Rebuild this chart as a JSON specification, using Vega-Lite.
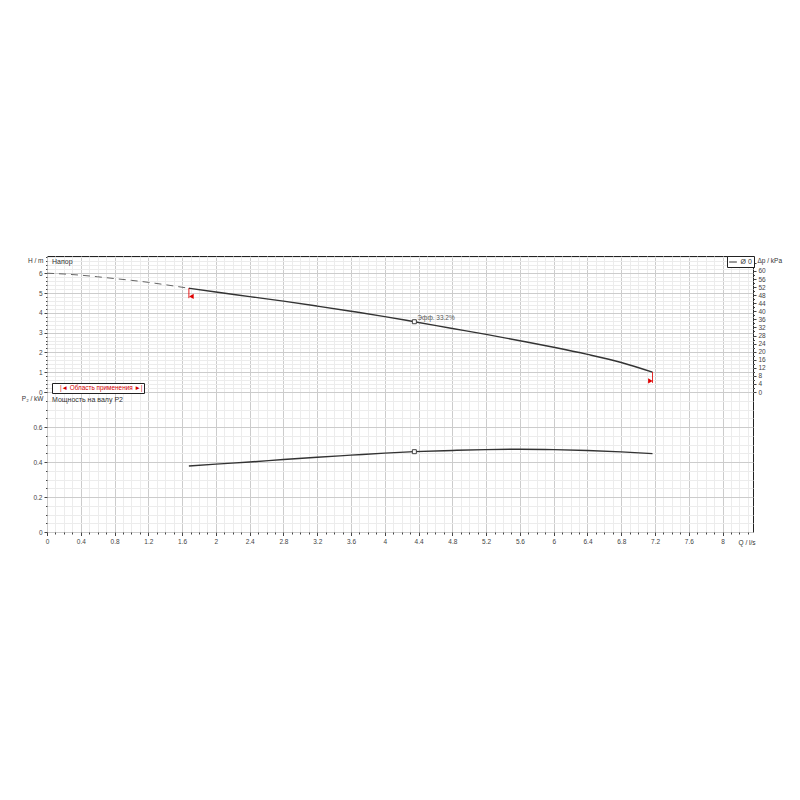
{
  "$schema": "https://vega.github.io/schema/vega-lite/v6.json",
  "autosize": {"type": "none"},
  "padding": {"left": 47, "top": 256, "right": 753, "bottom": 544},
  "background": "white",
  "config": {
    "font": "Liberation Sans",
    "view": {"stroke": "#222", "strokeWidth": 1},
    "axis": {
      "labelFont": "Liberation Sans", "labelFontSize": 6.5, "labelColor": "#444",
      "titleFont": "Liberation Sans", "titleFontSize": 6.5, "titleFontWeight": "normal", "titleColor": "#333",
      "tickColor": "#444", "domain": false, "labelOverlap": false, "labelFlush": false, "tickCount": 300
    }
  },
  "datasets": {
    "headDashed": [{"Q":0,"H":6.0},{"Q":0.2,"H":5.96},{"Q":0.4,"H":5.9},{"Q":0.6,"H":5.82},{"Q":0.8,"H":5.73},{"Q":1.0,"H":5.64},{"Q":1.2,"H":5.54},{"Q":1.4,"H":5.42},{"Q":1.68,"H":5.24}],
    "headSolid": [{"Q":1.68,"H":5.24},{"Q":2.0,"H":5.05},{"Q":2.4,"H":4.82},{"Q":2.8,"H":4.59},{"Q":3.2,"H":4.34},{"Q":3.6,"H":4.08},{"Q":4.0,"H":3.81},{"Q":4.35,"H":3.55},{"Q":4.8,"H":3.21},{"Q":5.2,"H":2.91},{"Q":5.6,"H":2.59},{"Q":6.0,"H":2.26},{"Q":6.4,"H":1.9},{"Q":6.8,"H":1.49},{"Q":7.17,"H":1.0}],
    "power": [{"Q":1.68,"P":0.377},{"Q":2.0,"P":0.388},{"Q":2.4,"P":0.4},{"Q":2.8,"P":0.414},{"Q":3.2,"P":0.427},{"Q":3.6,"P":0.439},{"Q":4.0,"P":0.451},{"Q":4.35,"P":0.459},{"Q":4.8,"P":0.466},{"Q":5.2,"P":0.471},{"Q":5.6,"P":0.473},{"Q":6.0,"P":0.471},{"Q":6.4,"P":0.466},{"Q":6.8,"P":0.458},{"Q":7.17,"P":0.448}],
    "op": [{"Q":4.35,"H":3.55,"P":0.459,"label":"Эфф. 33.2%"}],
    "limits": [{"Q":1.68,"H1":5.24,"H2":4.74,"Qt":1.71,"Ht":4.83,"side":"left"},{"Q":7.17,"H1":1.0,"H2":0.46,"Qt":7.145,"Ht":0.56,"side":"right"}],
    "dpAxis": [{"dp":0},{"dp":64}]
  },
  "spacing": 0,
  "bounds": "flush",
  "vconcat": [
    {
      "width": 706, "height": 136,
      "title": {"text": "Напор", "anchor": "start", "frame": "group", "offset": -11, "dx": 5, "fontSize": 7, "fontWeight": "normal", "font": "Liberation Sans", "color": "#333"},
      "layer": [
        {
          "data": {"name": "dpAxis"},
          "mark": {"type": "point", "opacity": 0},
          "encoding": {
            "y": {"field": "dp", "type": "quantitative", "scale": {"domain": [0, 67.4], "nice": false, "zero": false},
              "axis": {"orient": "right", "grid": false, "tickCount": 300,
                "values": [0,2,4,6,8,10,12,14,16,18,20,22,24,26,28,30,32,34,36,38,40,42,44,46,48,50,52,54,56,58,60,62,64,66],
                "labelExpr": "(datum.value % 4 == 0 && datum.value <= 60) ? toString(datum.value) : ''",
                "tickSize": {"condition": {"test": "datum.value % 4 == 0", "value": 3}, "value": 1.5},
                "labelPadding": 2,
                "title": "Δp / kPa", "titleAngle": 0, "titleAlign": "left", "titleBaseline": "middle", "titleX": 4, "titleY": 4}}
          }
        },
        {
          "layer": [
            {
              "data": {"name": "headDashed"},
              "mark": {"type": "line", "color": "#666", "strokeDash": [7, 5], "strokeWidth": 1, "interpolate": "monotone"},
              "encoding": {
                "x": {"field": "Q", "type": "quantitative", "scale": {"domain": [0, 8.36], "nice": false, "zero": false},
                  "axis": {"orient": "bottom", "grid": true, "labels": false, "ticks": false, "title": null, "tickCount": 300,
                    "values": [0,0.1,0.2,0.3,0.4,0.5,0.6,0.7,0.8,0.9,1,1.1,1.2,1.3,1.4,1.5,1.6,1.7,1.8,1.9,2,2.1,2.2,2.3,2.4,2.5,2.6,2.7,2.8,2.9,3,3.1,3.2,3.3,3.4,3.5,3.6,3.7,3.8,3.9,4,4.1,4.2,4.3,4.4,4.5,4.6,4.7,4.8,4.9,5,5.1,5.2,5.3,5.4,5.5,5.6,5.7,5.8,5.9,6,6.1,6.2,6.3,6.4,6.5,6.6,6.7,6.8,6.9,7,7.1,7.2,7.3,7.4,7.5,7.6,7.7,7.8,7.9,8,8.1,8.2,8.3],
                    "gridColor": {"condition": {"test": "abs(datum.value/0.4 - round(datum.value/0.4)) < 0.01", "value": "#cccccc"}, "value": "#ececec"}}},
                "y": {"field": "H", "type": "quantitative", "scale": {"domain": [0, 6.87], "nice": false, "zero": false},
                  "axis": {"orient": "left", "grid": true, "tickCount": 300,
                    "values": [0,0.2,0.4,0.6,0.8,1,1.2,1.4,1.6,1.8,2,2.2,2.4,2.6,2.8,3,3.2,3.4,3.6,3.8,4,4.2,4.4,4.6,4.8,5,5.2,5.4,5.6,5.8,6,6.2,6.4,6.6,6.8],
                    "gridColor": {"condition": {"test": "abs(datum.value - round(datum.value)) < 0.01", "value": "#cccccc"}, "value": "#ececec"},
                    "tickSize": {"condition": {"test": "abs(datum.value - round(datum.value)) < 0.01", "value": 3}, "value": 1.5},
                    "labelExpr": "abs(datum.value - round(datum.value)) < 0.01 ? toString(round(datum.value)) : ''",
                    "labelPadding": 2,
                    "title": "H / m", "titleAngle": 0, "titleAlign": "right", "titleBaseline": "middle", "titleX": -4, "titleY": 4}}
              }
            },
            {
              "data": {"name": "headSolid"},
              "mark": {"type": "line", "strokeWidth": 1.4, "interpolate": "monotone"},
              "encoding": {
                "x": {"field": "Q", "type": "quantitative"},
                "y": {"field": "H", "type": "quantitative"},
                "color": {"datum": "Ø 0", "type": "nominal", "scale": {"range": ["#333333"]},
                  "legend": {"orient": "none", "legendX": 680, "legendY": 0, "title": null, "symbolType": "stroke", "symbolStrokeWidth": 1, "symbolSize": 60,
                    "labelFontSize": 7, "labelFont": "Liberation Sans", "labelColor": "#333", "strokeColor": "#222", "fillColor": "white", "padding": 1.5, "labelOffset": 3}}
              }
            },
            {
              "data": {"name": "limits"},
              "mark": {"type": "rule", "color": "#e00000", "strokeWidth": 1},
              "encoding": {
                "x": {"field": "Q", "type": "quantitative"},
                "y": {"field": "H1", "type": "quantitative"},
                "y2": {"field": "H2"},
                "strokeDash": {"datum": "Область применения", "type": "nominal", "scale": {"range": [[1, 0]]},
                  "legend": {"orient": "none", "legendX": 5, "legendY": 127, "title": null, "symbolSize": 0, "symbolOpacity": 0, "symbolStrokeWidth": 0,
                    "labelOffset": 0, "labelColor": "#d40000", "labelFontSize": 6.4, "labelFont": "Liberation Sans",
                    "labelExpr": "'|◄ ' + datum.label + ' ►|'", "strokeColor": "#222", "fillColor": "white", "padding": 1.5}}
              }
            },
            {
              "data": {"name": "limits"},
              "mark": {"type": "point", "filled": true, "color": "#e00000", "size": 28, "opacity": 1},
              "encoding": {
                "x": {"field": "Qt", "type": "quantitative"},
                "y": {"field": "Ht", "type": "quantitative"},
                "shape": {"field": "side", "type": "nominal", "scale": {"domain": ["left", "right"], "range": ["triangle-left", "triangle-right"]}, "legend": null}
              }
            },
            {
              "data": {"name": "op"},
              "mark": {"type": "point", "shape": "square", "filled": true, "fill": "white", "stroke": "#444", "strokeWidth": 1, "size": 16, "opacity": 1},
              "encoding": {
                "x": {"field": "Q", "type": "quantitative"},
                "y": {"field": "H", "type": "quantitative"}
              }
            },
            {
              "data": {"name": "op"},
              "mark": {"type": "text", "align": "left", "baseline": "alphabetic", "dx": 3, "dy": -2, "fontSize": 6.5, "font": "Liberation Sans", "color": "#555"},
              "encoding": {
                "x": {"field": "Q", "type": "quantitative"},
                "y": {"field": "H", "type": "quantitative"},
                "text": {"field": "label"}
              }
            }
          ]
        }
      ],
      "resolve": {"scale": {"y": "independent"}}
    },
    {
      "width": 706, "height": 140,
      "title": {"text": "Мощность на валу P2", "anchor": "start", "frame": "group", "offset": -14, "dx": 5, "fontSize": 7, "fontWeight": "normal", "font": "Liberation Sans", "color": "#333"},
      "layer": [
        {
          "data": {"name": "power"},
          "mark": {"type": "line", "color": "#333", "strokeWidth": 1.4, "interpolate": "monotone"},
          "encoding": {
            "x": {"field": "Q", "type": "quantitative", "scale": {"domain": [0, 8.36], "nice": false, "zero": false},
              "axis": {"orient": "bottom", "grid": true, "tickCount": 300,
                "values": [0,0.1,0.2,0.3,0.4,0.5,0.6,0.7,0.8,0.9,1,1.1,1.2,1.3,1.4,1.5,1.6,1.7,1.8,1.9,2,2.1,2.2,2.3,2.4,2.5,2.6,2.7,2.8,2.9,3,3.1,3.2,3.3,3.4,3.5,3.6,3.7,3.8,3.9,4,4.1,4.2,4.3,4.4,4.5,4.6,4.7,4.8,4.9,5,5.1,5.2,5.3,5.4,5.5,5.6,5.7,5.8,5.9,6,6.1,6.2,6.3,6.4,6.5,6.6,6.7,6.8,6.9,7,7.1,7.2,7.3,7.4,7.5,7.6,7.7,7.8,7.9,8,8.1,8.2,8.3],
                "gridColor": {"condition": {"test": "abs(datum.value/0.4 - round(datum.value/0.4)) < 0.01", "value": "#cccccc"}, "value": "#ececec"},
                "tickSize": {"condition": {"test": "abs(datum.value/0.4 - round(datum.value/0.4)) < 0.01", "value": 3.5}, "value": 2},
                "labelExpr": "abs(datum.value/0.4 - round(datum.value/0.4)) < 0.01 ? toString(round(datum.value*10)/10) : ''",
                "labelPadding": 3,
                "title": "Q / l/s", "titleAngle": 0, "titleAlign": "right", "titleBaseline": "middle", "titleX": 708, "titleY": 10}},
            "y": {"field": "P", "type": "quantitative", "scale": {"domain": [0, 0.8], "nice": false, "zero": false},
              "axis": {"orient": "left", "grid": true, "tickCount": 300,
                "values": [0,0.05,0.1,0.15,0.2,0.25,0.3,0.35,0.4,0.45,0.5,0.55,0.6,0.65,0.7,0.75,0.8],
                "gridColor": {"condition": {"test": "abs(datum.value/0.2 - round(datum.value/0.2)) < 0.01", "value": "#cccccc"}, "value": "#ececec"},
                "tickSize": {"condition": {"test": "abs(datum.value/0.2 - round(datum.value/0.2)) < 0.01", "value": 3}, "value": 1.5},
                "labelExpr": "(abs(datum.value/0.2 - round(datum.value/0.2)) < 0.01 && datum.value < 0.7) ? toString(round(datum.value*10)/10) : ''",
                "labelPadding": 2,
                "title": "P₂ / kW", "titleAngle": 0, "titleAlign": "right", "titleBaseline": "middle", "titleX": -4, "titleY": 6}}
          }
        },
        {
          "data": {"name": "op"},
          "mark": {"type": "point", "shape": "square", "filled": true, "fill": "white", "stroke": "#444", "strokeWidth": 1, "size": 16, "opacity": 1},
          "encoding": {
            "x": {"field": "Q", "type": "quantitative"},
            "y": {"field": "P", "type": "quantitative"}
          }
        }
      ]
    }
  ]
}
